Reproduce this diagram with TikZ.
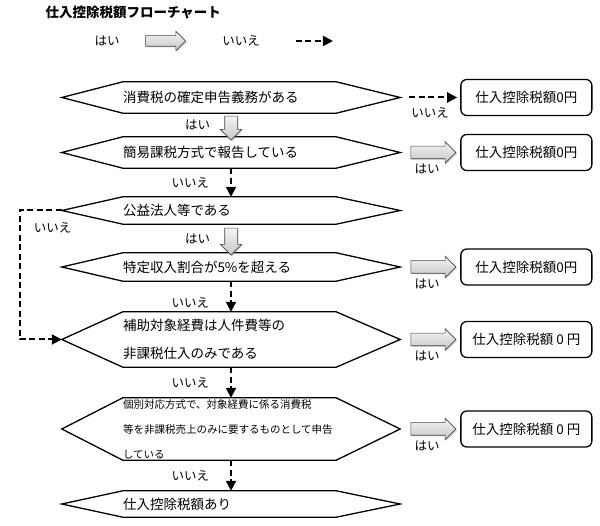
\documentclass[tikz,border=0pt]{standalone}
\usepackage{fontspec}
\setmainfont{Noto Sans CJK JP}
\usetikzlibrary{shapes,arrows,arrows.meta,positioning,calc,shadows}
\tikzset{
hexa/.style = {inner xsep=61pt, inner ysep=0pt, text width=216pt, align=left, font=\fontsize{13.5}{28}\selectfont},
hexline/.style = {draw, line width=1.3pt, line join=miter},
result/.style = {draw, line width=1.3pt, rounded corners=6pt, minimum width=131pt, minimum height=36pt, font=\fontsize{13.5}{16}\selectfont},
yesarrow/.style = {single arrow, draw=gray!55!black, line width=0.6pt, top color=gray!8, bottom color=gray!45, inner sep=6pt, single arrow head extend=4.5pt, drop shadow={shadow xshift=1.2pt, shadow yshift=-1.2pt, opacity=0.3}},
noline/.style = {->, line width=2pt, dash pattern=on 6pt off 3.5pt},
lbl/.style = {font=\fontsize{12.5}{15}\selectfont, inner sep=1pt}
}
\begin{document}
\begin{tikzpicture}[x=1pt, y=-1pt, >={Triangle[length=10pt,width=10pt]}, node distance=60pt]
\useasboundingbox (0,0) rectangle (600,526);
\node[font=\fontsize{13.5}{16}\selectfont\bfseries, anchor=west] (title) at (42,12) {仕入控除税額フローチャート};
% legend
\node[lbl] (lyes) at (107,41) {はい};
\node[yesarrow, minimum height=40pt, inner sep=5pt] (lyesarr) at (163,41) {};
\node[lbl] (lno) at (241,41) {いいえ};
\draw[noline] ([xshift=35pt]lno.east) -- ([xshift=72pt]lno.east);
% questions
\node[hexa, minimum height=31pt] (h1) at (231,97.5) {消費税の確定申告義務がある};
\node[hexa, minimum height=31pt] (h2) at (231,152.5) {簡易課税方式で報告している};
\node[hexa, minimum height=27pt] (h3) at (231,210.5) {公益法人等である};
\node[hexa, minimum height=28pt] (h4) at (231,267) {特定収入割合が5\%を超える};
\node[hexa, minimum height=55pt] (h5) at (231,339.5) {補助対象経費は人件費等の\\非課税仕入のみである};
\node[hexa, minimum height=62pt, font=\fontsize{10.5}{25}\selectfont] (h6) at (231,429) {個別対応方式で、対象経費に係る消費税\\等を非課税売上のみに要するものとして申告\\している};
\node[hexa, minimum height=26pt] (h7) at (231,504) {仕入控除税額あり};
\foreach \n in {h1,h2,h3,h4,h5,h6,h7}
  \draw[hexline] (\n.west) -- ([xshift=61pt]\n.north west) -- ([xshift=-64pt]\n.north east) -- (\n.east) -- ([xshift=-64pt]\n.south east) -- ([xshift=61pt]\n.south west) -- cycle;
% results
\node[result, right=60pt of h1] (r1) {仕入控除税額0円};
\node[result, right=60pt of h2] (r2) {仕入控除税額0円};
\node[result, right=60pt of h4] (r3) {仕入控除税額0円};
\node[result, right=60pt of h5] (r4) {仕入控除税額 0 円};
\node[result, right=60pt of h6] (r5) {仕入控除税額 0 円};
% down
\node[yesarrow, shape border rotate=270, minimum height=24pt] (a12) at ($(h1.south)!0.5!(h2.north)$) {};
\node[lbl, left=13pt of a12] (n12) {はい};
\draw[noline] (h2.south) -- node[lbl, left=20pt] (n23) {いいえ} (h3.north);
\node[yesarrow, shape border rotate=270, minimum height=27pt] (a34) at ($(h3.south)!0.5!(h4.north)$) {};
\node[lbl, left=13pt of a34] (n34) {はい};
\draw[noline] (h4.south) -- node[lbl, left=20pt, yshift=-6pt] (n45) {いいえ} (h5.north);
\draw[noline] (h5.south) -- node[lbl, left=20pt] (n56) {いいえ} (h6.north);
\draw[noline] (h6.south) -- node[lbl, left=20pt] (n67) {いいえ} (h7.north);
% right
\draw[noline, shorten <=9pt, shorten >=3pt] (h1.east) -- node[lbl, below=8pt] (n1r) {いいえ} (r1.west);
\node[yesarrow, minimum height=45pt] (a2r) at ($(h2.east)!0.5!(r2.west)$) {};
\node[lbl, below=4pt of a2r, xshift=-3pt] (n2r) {はい};
\node[yesarrow, minimum height=45pt] (a4r) at ($(h4.east)!0.5!(r3.west)$) {};
\node[lbl, below=4pt of a4r, xshift=-3pt] (n4r) {はい};
\node[yesarrow, minimum height=45pt] (a5r) at ($(h5.east)!0.5!(r4.west)$) {};
\node[lbl, below=4pt of a5r, xshift=-3pt] (n5r) {はい};
\node[yesarrow, minimum height=45pt] (a6r) at ($(h6.east)!0.5!(r5.west)$) {};
\node[lbl, below=4pt of a6r, xshift=-3pt] (n6r) {はい};
% loop
\draw[noline] (h3.west) -- ++(-42,0) node[lbl, below right=10pt and 12pt] (n35) {いいえ} |- (h5.west);
\end{tikzpicture}
\end{document}
